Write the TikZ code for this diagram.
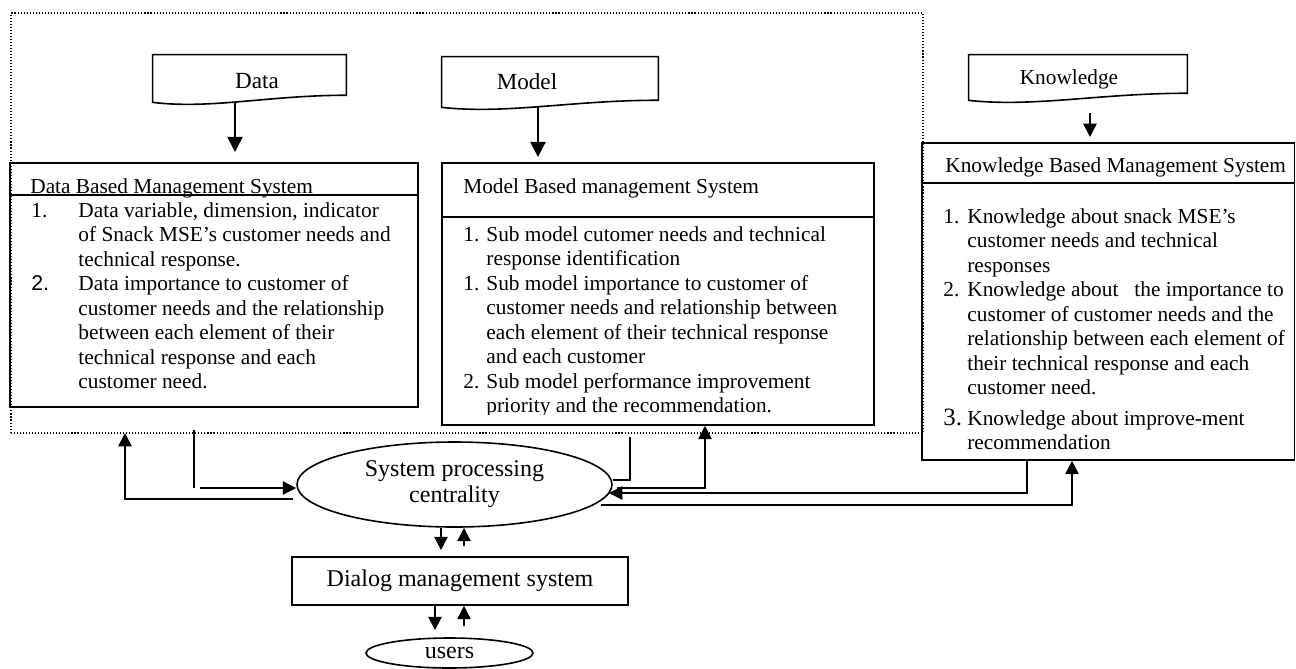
\documentclass[tikz,border=0pt]{standalone}
\usepackage{fontspec}
\setmainfont{Liberation Serif}
\newfontfamily\arialfont{Liberation Sans}
\usetikzlibrary{arrows.meta,shapes.geometric,fit,calc}

\begin{document}
\begin{tikzpicture}[x=0.5625pt, y=-0.5625pt,
  box/.style={draw, line width=0.9pt, inner sep=0pt},
  docbox/.style={inner sep=0pt},
  wire/.style={line width=0.9pt},
  arr/.style={line width=0.9pt, -{Triangle[length=7.5pt,width=7.5pt]}},
  bigarr/.style={line width=0.9pt, -{Triangle[length=8.5pt,width=8.5pt]}},
  body/.style={font=\fontsize{12}{13.8}\selectfont, inner sep=0pt, anchor=base west}]
% one unit is one pixel of the sketch
\def\pu{0.5625pt}
\useasboundingbox (0,0) rectangle (1296,668);

% dotted frame round the data and model parts
\node[draw, dash pattern=on 0.6pt off 1.1pt, line width=0.6pt, inner sep=0pt,
      fit={(11,13) (923,433)}] (frame) {};

% --- document symbols ---
\node[docbox, fit={(153,55) (346,102)}] (datadoc) {};
\node[docbox, fit={(442,57) (658,107)}] (modeldoc) {};
\node[docbox, fit={(969,55) (1187,100)}] (kdoc) {};
\foreach \d in {datadoc,modeldoc,kdoc}
  \draw[wire] (\d.south west) -- (\d.north west) -- (\d.north east)
    -- ([yshift=4pt]\d.south east)
    .. controls ($(\d.south west)!0.6!(\d.south east)+(0pt,4pt)$)
    and ($(\d.south west)!0.3!(\d.south east)+(0pt,-4pt)$) .. (\d.south west) -- cycle;
\node[font=\fontsize{13}{15}\selectfont, anchor=base] (datalbl) at (257,88) {Data};
\node[font=\fontsize{13}{15}\selectfont, anchor=base] (modellbl) at (527,89) {Model};
\node[font=\fontsize{12}{14}\selectfont, anchor=base] (klbl) at (1069,84) {Knowledge};

% --- Data based management system ---
\node[box, fit={(10,163) (418,407)}] (dbms) {};
\draw[wire] (dbms.west |- 0,195) -- (dbms.east |- 0,195);
\node[body] (dbmstitle) at (30,193) {Data Based Management System};
\node[body] (dbmsitems) at (31,217) {\begin{tabular}[t]{@{}p{26.5pt}@{}l@{}}
  1. & Data variable, dimension, indicator\\
     & of Snack MSE's customer needs and\\
     & technical response.\\
  {\arialfont 2.} & Data importance to customer of\\
     & customer needs and the relationship\\
     & between each element of their\\
     & technical response and each\\
     & customer need.
  \end{tabular}};

% --- Model based management system ---
\node[box, fit={(442,163) (874,425)}] (mbms) {};
\draw[wire] (mbms.west |- 0,217) -- (mbms.east |- 0,217);
\node[body] (mbmstitle) at (463,193) {Model Based management System};
\begin{scope}
  \clip (443,218) rectangle (873,414);
  \node[body] (mbmsitems) at (463,241) {\begin{tabular}[t]{@{}p{13pt}@{}l@{}}
    1. & Sub model cutomer needs and technical\\
       & response identification\\
    1. & Sub model importance to customer of\\
       & customer needs and relationship between\\
       & each element of their technical response\\
       & and each customer\\
    2. & Sub model performance improvement\\
       & priority and the recommendation.
    \end{tabular}};
\end{scope}

% --- Knowledge based management system ---
\node[box, fit={(922,143) (1294.5,460)}] (kbms) {};
\draw[wire] (kbms.west |- 0,183) -- (kbms.east |- 0,183);
\node[body] (kbmstitle) at (945,172) {Knowledge Based Management System};
\node[body] (kbmsitems) at (943,223) {\begin{tabular}[t]{@{}p{13.5pt}@{}l@{}}
  1. & Knowledge about snack MSE's\\
     & customer needs and technical\\
     & responses\\
  2. & Knowledge about\ \ \ the importance to\\
     & customer of customer needs and the\\
     & relationship between each element of\\
     & their technical response and each\\
     & customer need.\\[3.4pt]
  {\fontsize{14}{16}\selectfont 3.} & Knowledge about improve-ment\\
     & recommendation
  \end{tabular}};

% --- centre, dialog and users ---
\node[ellipse, draw, line width=0.9pt, inner sep=0pt, align=center,
      minimum width=315*\pu, minimum height=85*\pu,
      font=\fontsize{13.5}{14.6}\selectfont] (spc) at (454.5,484.5)
      {System processing\\centrality};
\node[box, minimum width=336*\pu, minimum height=48*\pu,
      font=\fontsize{13.5}{15}\selectfont] (dms) at (460,581) {Dialog management system};
\node[ellipse, draw, line width=0.9pt, inner sep=0pt,
      minimum width=167*\pu, minimum height=30*\pu,
      font=\fontsize{13.5}{15}\selectfont] (users) at (449.5,653) {users};

% --- arrows from the documents ---
\coordinate (dataIn) at (235,152);
\coordinate (modelIn) at (538,157);
\coordinate (kOut) at (1090,113);
\coordinate (kIn) at (1090,137);
\draw[bigarr] (datadoc.south -| dataIn) -- (dataIn);
\draw[bigarr] (modeldoc.south -| modelIn) -- (modelIn);
\draw[arr] (kOut) -- (kIn);

% --- left links ---
\coordinate (retL) at (293,499);
\coordinate (upL) at (125,433);
\coordinate (dbT) at (194,430);
\coordinate (dbB) at (194,488);
\draw[arr] (retL) -| (upL);
\draw[wire] (dbT) -- (dbB);
\draw[arr] ([xshift=3.4pt]dbB) -- (spc.west |- dbB);

% --- right links ---
\coordinate (mbT) at (630,437);
\coordinate (mbB) at (630,480);
\coordinate (rA) at (617,488);
\coordinate (kL) at (1027,493);
\coordinate (kTip) at (609,493);
\coordinate (kR) at (601,505);
\draw[wire] (mbT) -- (mbB) -- (spc.east |- mbB);
\draw[arr] (rA) -| (mbms.south -| 705,0);
\draw[arr] (kbms.south -| kL) -- (kL) -- (kTip);
\draw[arr] (kR) -| (kbms.south -| 1072,0);

% --- down to the users ---
\draw[arr, shorten >=3.4pt] (spc.south -| 441,0) -- (dms.north -| 441,0);
\draw[arr, shorten <=5.6pt] (dms.north -| 464,0) -- (spc.south -| 464,0);
\draw[arr, shorten >=4pt] (dms.south -| 435,0) -- (users.north -| 435,0);
\draw[arr, shorten <=6.2pt] (users.north -| 464,0) -- (dms.south -| 464,0);
\end{tikzpicture}
\end{document}
